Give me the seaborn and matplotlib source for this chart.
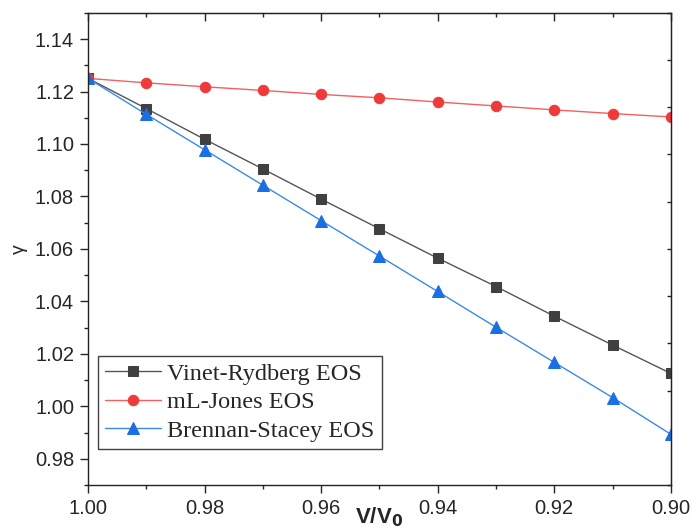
import numpy as np
import pandas as pd
import matplotlib
matplotlib.use("Agg")
import matplotlib.pyplot as plt
import seaborn as sns
from matplotlib.ticker import MultipleLocator

# volume ratio and Grueneisen parameter for each EOS
v_ratio = [1.00, 0.99, 0.98, 0.97, 0.96, 0.95, 0.94, 0.93, 0.92, 0.91, 0.90]
gamma_vinet = [1.125, 1.1135, 1.1018, 1.0905, 1.0790, 1.0677, 1.0565, 1.0457, 1.0344, 1.0234, 1.0126]
gamma_jones = [1.125, 1.1233, 1.1218, 1.1204, 1.1189, 1.1176, 1.1160, 1.1145, 1.1130, 1.1116, 1.1103]
gamma_brennan = [1.125, 1.1113, 1.0978, 1.0843, 1.0708, 1.0573, 1.0438, 1.0302, 1.0168, 1.0034, 0.9894]

labels = ["Vinet-Rydberg EOS", "mL-Jones EOS", "Brennan-Stacey EOS"]

sns.set_style("white")
plt.rcParams["font.family"] = ["Liberation Sans", "DejaVu Sans"]

fig = plt.figure(figsize=(6.93, 5.32), dpi=100)
ax = fig.add_axes([0.127, 0.088, 0.841, 0.888])

# one lineplot per series, line colour a bit lighter than the marker
sns.lineplot(x=v_ratio, y=gamma_vinet, ax=ax, color="#555555", lw=1.0,
             marker="s", ms=7, mfc="#404040", mec="#404040", label=labels[0])
sns.lineplot(x=v_ratio, y=gamma_jones, ax=ax, color="#f26060", lw=1.0,
             marker="o", ms=7.5, mfc="#ee3a3a", mec="#ee3a3a", label=labels[1])
sns.lineplot(x=v_ratio, y=gamma_brennan, ax=ax, color="#3b8ae6", lw=1.0,
             marker="^", ms=8.5, mfc="#1b6fe0", mec="#1b6fe0", label=labels[2])

ax.set_xlim(1.00, 0.90)
ax.set_ylim(0.97, 1.15)
ax.xaxis.set_major_locator(MultipleLocator(0.02))
ax.xaxis.set_minor_locator(MultipleLocator(0.01))
ax.yaxis.set_major_locator(MultipleLocator(0.02))
ax.yaxis.set_minor_locator(MultipleLocator(0.01))
ax.xaxis.set_major_formatter(matplotlib.ticker.FormatStrFormatter("%.2f"))
ax.yaxis.set_major_formatter(matplotlib.ticker.FormatStrFormatter("%.2f"))
ax.tick_params(which="major", direction="out", length=6, width=1, labelsize=14.5,
               bottom=True, left=True, pad=4)
ax.tick_params(which="minor", direction="out", length=3, width=1, bottom=True, left=True)

for s in ax.spines.values():
    s.set_color("#222222")
    s.set_linewidth(1.0)

# mirrored ticks pointing inwards on top and right
top = ax.secondary_xaxis("top")
top.xaxis.set_major_locator(MultipleLocator(0.02))
top.xaxis.set_minor_locator(MultipleLocator(0.01))
top.tick_params(which="major", direction="in", length=6, width=1, labeltop=False)
top.tick_params(which="minor", direction="in", length=3, width=1)
right = ax.secondary_yaxis("right")
right.set_yticks(np.linspace(0.97, 1.15, 11))
right.tick_params(direction="in", length=3, width=1, labelright=False)

ax.set_xlabel("V/V$_\\mathbf{0}$", fontsize=16, fontweight="bold", labelpad=-9)
ax.set_ylabel("γ", fontsize=14, rotation=90, labelpad=5)

leg = ax.legend(loc="lower left", bbox_to_anchor=(0.017, 0.076), borderaxespad=0,
                frameon=True, fancybox=False, edgecolor="#111111", handlelength=2.3,
                labelspacing=0.27, borderpad=0.3, handletextpad=0.25,
                prop={"family": "Liberation Serif", "size": 17.5})
leg.get_frame().set_linewidth(1.0)

fig.savefig("out.png", dpi=100)
